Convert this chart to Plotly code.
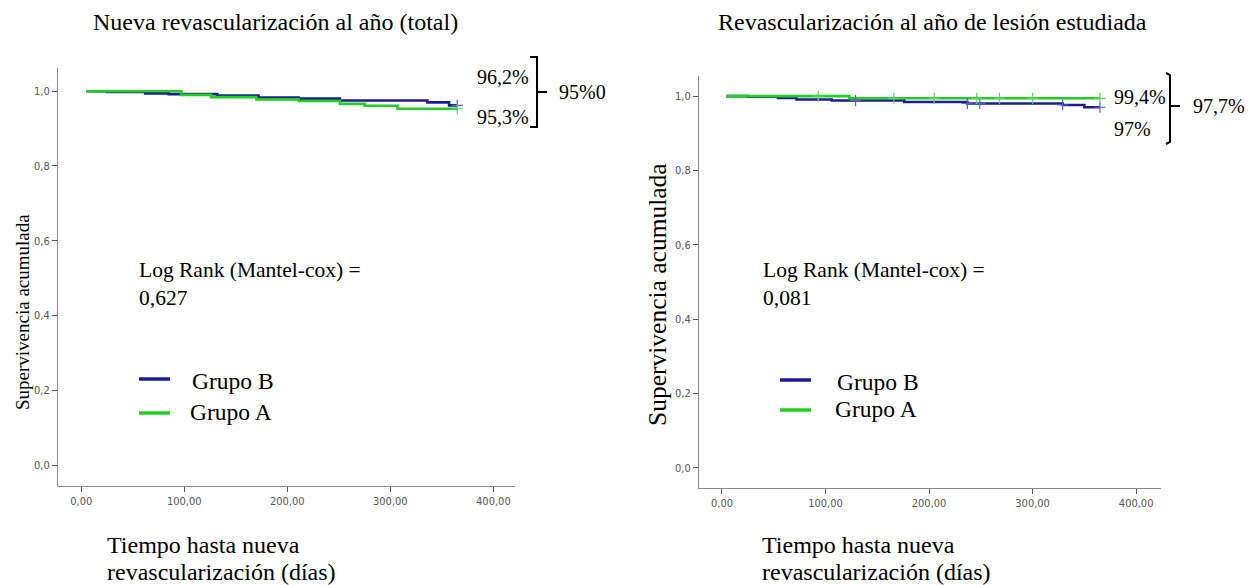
import plotly.graph_objects as go

# ---------------- data ----------------
left_b_days = [5, 25, 62, 85, 132, 172, 211, 251, 336, 357, 365]
left_b_surv = [1.0, 0.998, 0.994, 0.992, 0.988, 0.983, 0.980, 0.975, 0.970, 0.962, 0.962]
left_a_days = [5, 97, 126, 170, 211, 251, 275, 307, 365]
left_a_surv = [1.0, 0.990, 0.984, 0.978, 0.974, 0.966, 0.961, 0.953, 0.953]
left_b_cens = [365]
left_a_cens = [365]

right_b_days = [4, 25, 54, 72, 106, 176, 237, 329, 350, 365]
right_b_surv = [1.0, 0.998, 0.995, 0.991, 0.988, 0.984, 0.980, 0.976, 0.970, 0.970]
right_a_days = [4, 123, 365]
right_a_surv = [1.0, 0.994, 0.994]
right_b_cens = [129, 237, 249, 329, 365]
right_a_cens = [93, 166, 205, 246, 268, 300, 365]

x_tickvals = [0, 100, 200, 300, 400]
x_ticktext = ["0,00", "100,00", "200,00", "300,00", "400,00"]
y_tickvals = [0.0, 0.2, 0.4, 0.6, 0.8, 1.0]
y_ticktext = ["0,0", "0,2", "0,4", "0,6", "0,8", "1,0"]

groups = ["Grupo B", "Grupo A"]
titles = ["Nueva revascularización al año (total)", "Revascularización al año de lesión estudiada"]
y_title = "Supervivencia acumulada"
x_title_lines = ["Tiempo hasta nueva", "revascularización (días)"]
logrank_label = "Log Rank (Mantel-cox) ="
logrank_values = ["0,627", "0,081"]
left_end_labels = ["96,2%", "95,3%"]
left_overall = "95%0"
right_end_labels = ["99,4%", "97%"]
right_overall = "97,7%"

# ---------------- style ----------------
W, H = 1248, 585
BLUE = "#1c1c96"
GREEN = "#1fd01f"
SERIF = "Liberation Serif, Times New Roman, serif"
TICKFONT = dict(family="Liberation Sans Narrow, DejaVu Sans Condensed, Arial Narrow, sans-serif",
                size=11, color="#555555")


def fx(p):
    return p / W


def fy(p):
    return 1 - p / H


def step_value(days, surv, t):
    v = surv[0]
    for d, s in zip(days, surv):
        if d <= t:
            v = s
    return v


fig = go.Figure()

panels = [
    ("x", "y", left_b_days, left_b_surv, left_a_days, left_a_surv, left_b_cens, left_a_cens),
    ("x2", "y2", right_b_days, right_b_surv, right_a_days, right_a_surv, right_b_cens, right_a_cens),
]
for xa, ya, bd, bs, ad, as_, bc, ac in panels:
    fig.add_trace(go.Scatter(x=bd, y=bs, mode="lines", line=dict(color=BLUE, width=2.6, shape="hv"),
                             xaxis=xa, yaxis=ya, showlegend=False))
    fig.add_trace(go.Scatter(x=ad, y=as_, mode="lines", line=dict(color=GREEN, width=2.6, shape="hv"),
                             xaxis=xa, yaxis=ya, showlegend=False))
    fig.add_trace(go.Scatter(x=bc, y=[step_value(bd, bs, t) for t in bc], mode="markers",
                             marker=dict(symbol="cross-thin", size=8, line=dict(color="#5a5ad0", width=1.2)),
                             xaxis=xa, yaxis=ya, showlegend=False))
    fig.add_trace(go.Scatter(x=ac, y=[step_value(ad, as_, t) for t in ac], mode="markers",
                             marker=dict(symbol="cross-thin", size=8, line=dict(color="#5fd65f", width=1.2)),
                             xaxis=xa, yaxis=ya, showlegend=False))

axis_common = dict(showgrid=False, zeroline=False, showline=True, linecolor="#8a8a8a", linewidth=1.2,
                   ticks="outside", ticklen=5, tickcolor="#555555", tickwidth=1.2, tickfont=TICKFONT)

fig.update_layout(
    width=W, height=H, paper_bgcolor="white", plot_bgcolor="white",
    margin=dict(l=0, r=0, t=0, b=0),
    xaxis=dict(domain=[fx(58), fx(515)], range=[-22.6, 421], tickvals=x_tickvals, ticktext=x_ticktext,
               anchor="y", **axis_common),
    yaxis=dict(domain=[fy(486), fy(68)], range=[-0.056, 1.062], tickvals=y_tickvals, ticktext=y_ticktext,
               anchor="x", **axis_common),
    xaxis2=dict(domain=[fx(699), fx(1161)], range=[-22.2, 424], tickvals=x_tickvals, ticktext=x_ticktext,
                anchor="y2", **axis_common),
    yaxis2=dict(domain=[fy(488), fy(76)], range=[-0.054, 1.054], tickvals=y_tickvals, ticktext=y_ticktext,
                anchor="x2", **axis_common),
)

ann = []
shapes = []


def text(x, y, s, size=19, xanchor="left", angle=0):
    ann.append(dict(x=fx(x), y=fy(y), xref="paper", yref="paper", text=s, showarrow=False,
                    xanchor=xanchor, yanchor="middle", textangle=angle,
                    font=dict(family=SERIF, size=size, color="black")))


# titles
text(275, 22, titles[0], size=24, xanchor="center")
text(932, 22, titles[1], size=24, xanchor="center")

# y titles
text(22, 312, y_title, size=19, xanchor="center", angle=-90)
text(657, 295, y_title, size=25.5, xanchor="center", angle=-90)

# x titles
for x0 in (105, 760):
    text(x0, 545, x_title_lines[0], size=24)
    text(x0, 572, x_title_lines[1], size=24)

# log rank
for x0, v in ((137, logrank_values[0]), (761, logrank_values[1])):
    text(x0, 270, logrank_label, size=21.5)
    text(x0, 298, v, size=21.5)

# legends
for lx, tx, yb, ya in ((139, 190, 379, 413), (780, 835, 380, 410)):
    shapes.append(dict(type="line", xref="paper", yref="paper", x0=fx(lx), x1=fx(lx + 31),
                       y0=fy(yb), y1=fy(yb), line=dict(color=BLUE, width=3.5)))
    shapes.append(dict(type="line", xref="paper", yref="paper", x0=fx(lx), x1=fx(lx + 31),
                       y0=fy(ya), y1=fy(ya), line=dict(color=GREEN, width=3.5)))
    text(tx, yb + 2, groups[0], size=23.5)
    text(tx - 2, ya - 1, groups[1], size=23.5)

# left end labels + bracket
text(475, 77, left_end_labels[0], size=20)
text(475, 117, left_end_labels[1], size=20)
shapes.append(dict(type="path", xref="paper", yref="paper",
                   path=f"M {fx(530)} {fy(57)} L {fx(537)} {fy(57)} L {fx(537)} {fy(127)} L {fx(530)} {fy(127)}",
                   line=dict(color="black", width=2)))
shapes.append(dict(type="line", xref="paper", yref="paper", x0=fx(537), x1=fx(547), y0=fy(92), y1=fy(92),
                   line=dict(color="black", width=2)))
text(557, 92, left_overall, size=20)

# right end labels + bracket
text(1112, 97, right_end_labels[0], size=20)
text(1112, 129, right_end_labels[1], size=20)
shapes.append(dict(type="path", xref="paper", yref="paper",
                   path=f"M {fx(1166)} {fy(73)} L {fx(1170)} {fy(75)} L {fx(1170)} {fy(142)} L {fx(1166)} {fy(144)}",
                   line=dict(color="black", width=2)))
shapes.append(dict(type="line", xref="paper", yref="paper", x0=fx(1170), x1=fx(1180), y0=fy(106), y1=fy(106),
                   line=dict(color="black", width=2)))
text(1191, 106, right_overall, size=20)

fig.update_layout(annotations=ann, shapes=shapes)
fig.write_html("out.html", config={"displayModeBar": False},
               post_script="document.body.style.margin='0px';")
